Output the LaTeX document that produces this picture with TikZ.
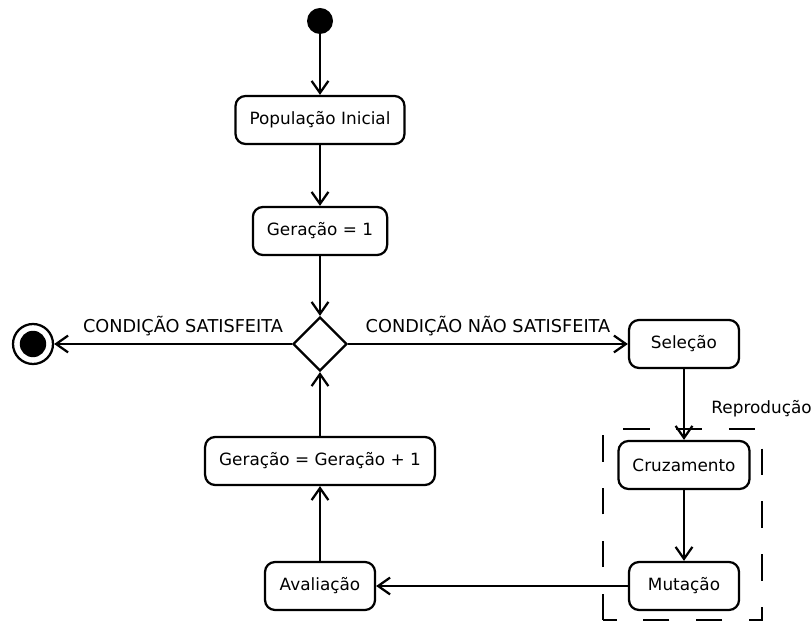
\documentclass[tikz,border=0pt]{standalone}
\usepackage{fontspec}
\setmainfont{DejaVu Sans}
\usepackage{xcolor}
\usepackage{tikz}
\usetikzlibrary{shapes,arrows,positioning,calc,arrows.meta}

\tikzset{
    acao/.style={draw, line width=1.6pt, rounded corners=0.25cm, minimum height=1.2cm, minimum width=2.75cm, inner xsep=0.35cm},
    fluxo/.style={line width=1.6pt, -{Straight Barb[length=0.3cm,width=0.42cm,line width=1.6pt]}},
    rotulo/.style={font=\fontsize{12.6}{14}\selectfont}
}

\begin{document}
\begin{tikzpicture}[font=\fontsize{12}{14}\selectfont]
    \useasboundingbox (0,0) rectangle (20.3,15.65);

    % Start and end
    \node[circle, fill=black, minimum size=0.65cm, inner sep=0] (inicio) at (8,15.125) {};
    \node[circle, draw, line width=1.6pt, minimum size=1cm, inner sep=0] (fim) at (0.825,7.05) {};
    \fill (fim.center) circle (0.33);

    % Actions
    \node[acao] (populacao) at (8,12.65) {População Inicial};
    \node[acao] (geracao) at (8,9.875) {Geração = 1};
    \node[draw, diamond, line width=1.6pt, minimum width=1.35cm, minimum height=1.35cm, inner sep=0] (decisao) at (8,7.05) {};
    \node[acao] (selecao) at (17.1,7.05) {Seleção};
    \node[acao] (cruzamento) at (17.1,4.025) {Cruzamento};
    \node[acao] (mutacao) at (17.1,1.0) {Mutação};
    \node[acao] (avaliacao) at (8,1.0) {Avaliação};
    \node[acao] (incremento) at (8,4.125) {Geração = Geração + 1};

    % Reproduction group
    \draw[line width=1.6pt, dash pattern=on 0.66cm off 0.66cm] (15.075,0.15) rectangle (19.05,4.925);
    \node[anchor=east, inner sep=0] (reproducao) at (20.3,5.425) {Reprodução};

    % Flow
    \draw[fluxo] (inicio) -- (populacao);
    \draw[fluxo] (populacao) -- (geracao);
    \draw[fluxo] (geracao) -- (decisao);
    \draw[fluxo] (decisao) -- node[rotulo, pos=0.458, above=0.05cm] {CONDIÇÃO SATISFEITA} (fim);
    \draw[fluxo] (decisao) -- node[rotulo, midway, above=0.05cm] {CONDIÇÃO NÃO SATISFEITA} (selecao);
    \draw[fluxo] (selecao) -- (cruzamento);
    \draw[fluxo] (cruzamento) -- (mutacao);
    \draw[fluxo] (mutacao) -- (avaliacao);
    \draw[fluxo] (avaliacao) -- (incremento);
    \draw[fluxo] (incremento) -- (decisao);
\end{tikzpicture}
\end{document}
